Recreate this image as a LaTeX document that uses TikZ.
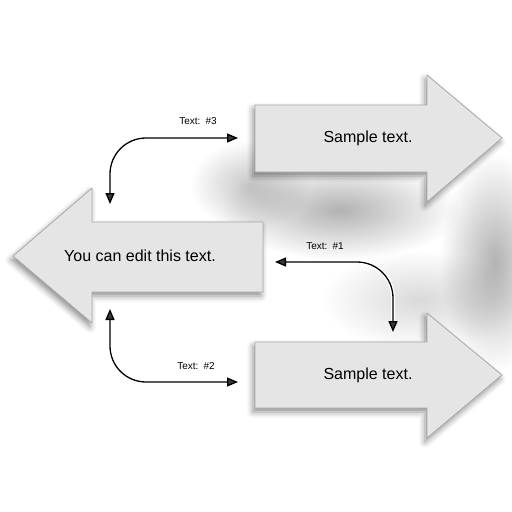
\documentclass[tikz,border=0pt]{standalone}
\usepackage{fontspec}
\setmainfont{Liberation Sans}
\usetikzlibrary{arrows.meta,shadows.blur,fadings}
\definecolor{arrowfill}{HTML}{E5E5E5}
\definecolor{arrowedge}{HTML}{A8A8A8}
\tikzfading[name=softglow, inner color=transparent!0, outer color=transparent!100]
\begin{document}
\begin{tikzpicture}[x=1pt,y=-1pt,
  blockarrow/.style={fill=arrowfill, draw=arrowedge, line width=0.8pt, line join=round,
    blur shadow={shadow xshift=-2pt, shadow yshift=-4pt, shadow blur radius=6pt, shadow opacity=45}},
  panel/.style={draw=none, inner sep=0pt},
  conn/.style={line width=1.3pt, rounded corners=36pt,
    {Triangle[length=11pt,width=9pt]}-{Triangle[length=11pt,width=9pt]}},
  halo/.style={line width=4pt, white, rounded corners=36pt},
  lbl/.style={font=\fontsize{10}{11}\selectfont, inner sep=1pt},
  big/.style={font=\fontsize{16}{19}\selectfont, inner sep=0pt},
  smear/.style={fill=black, path fading=softglow}
]
\useasboundingbox (0,0) rectangle (512,512);
% background smear
\fill[smear, opacity=0.22] (250,185) ellipse [x radius=60, y radius=45];
\fill[smear, opacity=0.30] (340,210) ellipse [x radius=120, y radius=50];
\fill[smear, opacity=0.30] (495,262) ellipse [x radius=55, y radius=110];
\fill[smear, opacity=0.15] (420,300) ellipse [x radius=100, y radius=50];

% top arrow
\path[blockarrow] (255,105) -- (427,105) -- (427,75) -- (502,138) -- (427,202) -- (427,172) -- (255,172) -- cycle;
\node[panel, minimum width=172pt, minimum height=67pt] (T) at (341,138.5) {};
% left arrow
\path[blockarrow] (263,222) -- (92,222) -- (92,188) -- (13,256) -- (92,323) -- (92,292) -- (263,292) -- cycle;
\node[panel, minimum width=171pt, minimum height=70pt] (L) at (177.5,257) {};
% bottom arrow
\path[blockarrow] (255,342) -- (427,342) -- (427,313) -- (502,375) -- (427,438) -- (427,408) -- (255,408) -- cycle;
\node[panel, minimum width=172pt, minimum height=66pt] (B) at (341,375) {};

% texts
\node[big] (tT) at (368,138) {Sample text.};
\node[big] (tL) at (140,256) {You can edit this text.};
\node[big] (tB) at (368,375) {Sample text.};

% connector end points
\coordinate (c1s) at (110,204);
\coordinate (c1e) at (238,138);
\coordinate (c2s) at (275,262);
\coordinate (c2e) at (393,332);
\coordinate (c3s) at (110,309);
\coordinate (c3e) at (238,382);

\draw[halo] (c1s) |- (c1e);
\draw[halo] (c2s) -| (c2e);
\draw[halo] (c3s) |- (c3e);
\draw[conn] (c1s) |- (c1e);
\draw[conn] (c2s) -| (c2e);
\draw[conn] (c3s) |- (c3e);

\node[lbl] (l1) at (198,121) {Text:\hspace{5pt}\#3};
\node[lbl] (l2) at (325,246) {Text:\hspace{5pt}\#1};
\node[lbl] (l3) at (196,366) {Text:\hspace{5pt}\#2};
\end{tikzpicture}
\end{document}
